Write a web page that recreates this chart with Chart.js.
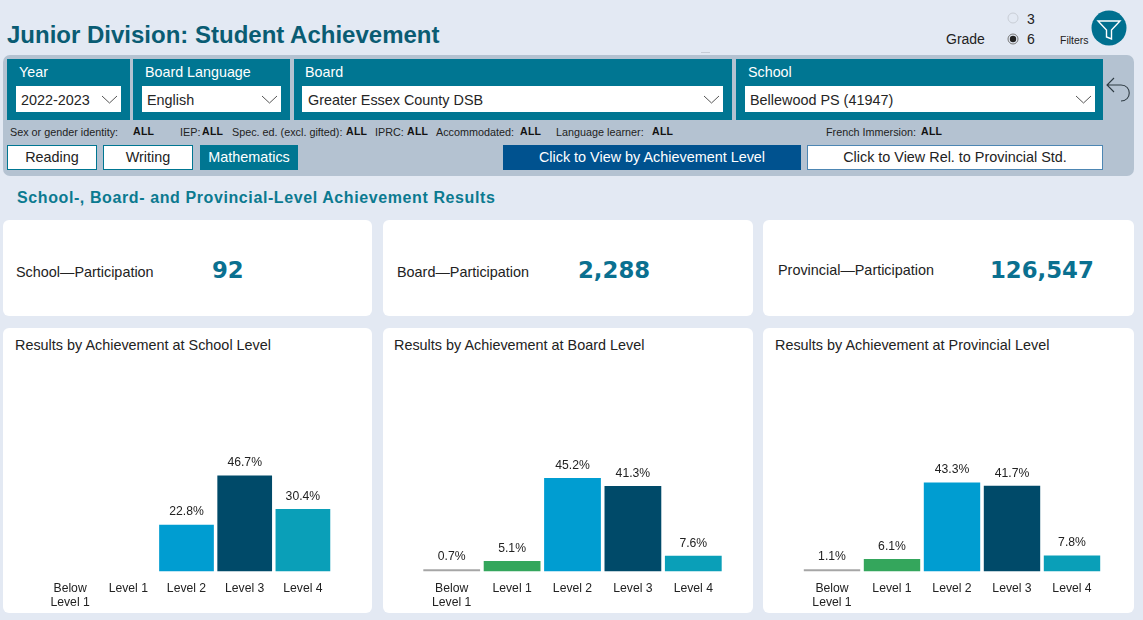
<!DOCTYPE html>
<html><head><meta charset="utf-8">
<script src="https://cdn.jsdelivr.net/npm/chart.js@4/dist/chart.umd.min.js"></script>
<style>
html,body{margin:0;padding:0;width:1143px;height:620px;overflow:hidden;background:#e3e9f3;font-family:"Liberation Sans",Arial,sans-serif;color:#222}
.a{position:absolute;white-space:nowrap;line-height:1}
.panel{position:absolute;left:3px;top:55px;width:1131px;height:121px;background:#b4c2d1;border-radius:7px}
.sl{position:absolute;background:#007692;top:59px;height:61px}
.in{position:absolute;background:#fff;top:86px;height:26px}
.slt{color:#fff;font-size:14.3px;top:65px}
.val{font-size:14.4px;top:93px;color:#252525}
.sm{font-size:10.8px;top:127px;color:#222}
.all{font-size:10.5px;font-weight:bold;top:126px;color:#111;letter-spacing:.3px}
.btn{position:absolute;box-sizing:border-box;text-align:center;font-size:14.4px;line-height:23px;top:145px;height:25px;background:#fff;border:1px solid #007692;color:#222}
.card{position:absolute;background:#fff;border-radius:6px}
.ptext{font-size:14.4px;color:#222}
.pval{font-family:"DejaVu Sans";font-weight:bold;font-size:22.8px;color:#0a7090}
.ct{font-size:14.4px;top:338px;color:#222}
canvas{position:absolute;top:328px;height:285px}
svg{position:absolute}
</style></head><body>
<div class="a" style="left:7px;top:23px;font-size:24px;font-weight:bold;color:#0a5c73">Junior Division: Student Achievement</div>
<div class="a" style="left:946px;top:32px;font-size:14px">Grade</div>
<svg style="left:1006px;top:11px" width="14" height="34"><circle cx="7" cy="7" r="5" fill="none" stroke="#c9ced6"/><circle cx="7" cy="28" r="5" fill="none" stroke="#777"/><circle cx="7" cy="28" r="3.2" fill="#222"/></svg>
<div class="a" style="left:1027px;top:12px;font-size:14px">3</div>
<div class="a" style="left:1027px;top:32px;font-size:14px">6</div>
<div class="a" style="left:1060px;top:35px;font-size:10.5px">Filters</div>
<svg style="left:1091px;top:10px" width="36" height="36"><circle cx="18" cy="18" r="17.5" fill="#00708f"/><path d="M7 11H29L20.5 20V29L15.5 27V20Z" fill="none" stroke="#fff" stroke-width="1.4"/></svg>
<div style="position:absolute;left:701px;top:52px;width:9px;height:1px;background:#c6ccd6"></div>
<div class="panel"></div>
<div class="sl" style="left:6.5px;width:123px"></div><div class="in" style="left:16px;width:105px"></div>
<div class="sl" style="left:133px;width:157px"></div><div class="in" style="left:142px;width:139px"></div>
<div class="sl" style="left:293.5px;width:438px"></div><div class="in" style="left:302px;width:421px"></div>
<div class="sl" style="left:736px;width:367px"></div><div class="in" style="left:745px;width:350px"></div>
<div class="a slt" style="left:19px">Year</div><div class="a slt" style="left:145px">Board Language</div><div class="a slt" style="left:305px">Board</div><div class="a slt" style="left:748px">School</div>
<div class="a val" style="left:21px">2022-2023</div><div class="a val" style="left:147px">English</div><div class="a val" style="left:308px">Greater Essex County DSB</div><div class="a val" style="left:750px">Bellewood PS (41947)</div>
<svg style="left:0;top:90px" width="1143" height="20" fill="none" stroke="#555" stroke-width="1"><path d="M102 6l7.500 7 7.500-7M262 6l7.500 7 7.500-7M704 6l7.500 7 7.500-7M1076 6l7.500 7 7.500-7"/></svg>
<svg style="left:1104px;top:75px" width="28" height="30" fill="none" stroke="#2d3a42" stroke-width="1.1"><path d="M10 3L3 10L10 17M3 10H17C28 10 28 26 17 26"/></svg>
<div class="a sm" style="left:10px">Sex or gender identity:</div><div class="a all" style="left:133px">ALL</div>
<div class="a sm" style="left:180px">IEP:</div><div class="a all" style="left:202px">ALL</div>
<div class="a sm" style="left:232px">Spec. ed. (excl. gifted):</div><div class="a all" style="left:346px">ALL</div>
<div class="a sm" style="left:375px">IPRC:</div><div class="a all" style="left:407px">ALL</div>
<div class="a sm" style="left:436px">Accommodated:</div><div class="a all" style="left:520px">ALL</div>
<div class="a sm" style="left:556px">Language learner:</div><div class="a all" style="left:652px">ALL</div>
<div class="a sm" style="left:826px">French Immersion:</div><div class="a all" style="left:921px">ALL</div>
<div class="btn" style="left:7px;width:90px">Reading</div>
<div class="btn" style="left:103px;width:90px">Writing</div>
<div class="btn" style="left:200px;width:98px;background:#007692;color:#fff">Mathematics</div>
<div class="btn" style="left:503px;width:298px;background:#00528f;border-color:#00528f;color:#fff">Click to View by Achievement Level</div>
<div class="btn" style="left:807px;width:296px;border-color:#4d86b3">Click to View Rel. to Provincial Std.</div>
<div class="a" style="left:17px;top:190px;font-size:16px;font-weight:bold;color:#0b7a90;letter-spacing:.6px">School-, Board- and Provincial-Level Achievement Results</div>
<div class="card" style="left:3px;top:220px;width:369px;height:96px"></div>
<div class="card" style="left:383px;top:220px;width:370px;height:96px"></div>
<div class="card" style="left:763px;top:220px;width:371px;height:96px"></div>
<div class="a ptext" style="left:16px;top:265px">School—Participation</div><div class="a pval" style="left:212px;top:259px">92</div>
<div class="a ptext" style="left:397px;top:265px">Board—Participation</div><div class="a pval" style="left:578px;top:259px">2,288</div>
<div class="a ptext" style="left:778px;top:263px">Provincial—Participation</div><div class="a pval" style="left:990px;top:259px">126,547</div>
<div class="card" style="left:3px;top:328px;width:369px;height:285px"></div>
<div class="card" style="left:383px;top:328px;width:370px;height:285px"></div>
<div class="card" style="left:763px;top:328px;width:371px;height:285px"></div>
<div class="a ct" style="left:15px">Results by Achievement at School Level</div>
<div class="a ct" style="left:394px">Results by Achievement at Board Level</div>
<div class="a ct" style="left:775px">Results by Achievement at Provincial Level</div>
<canvas id="c1" width="369" height="285" style="left:3px;width:369px"></canvas>
<canvas id="c2" width="370" height="285" style="left:383px;width:370px"></canvas>
<canvas id="c3" width="371" height="285" style="left:763px;width:371px"></canvas>
<script>
const categories = [["Below","Level 1"],"Level 1","Level 2","Level 3","Level 4"];
const schoolValues = [null,null,22.8,46.7,30.4];
const boardValues = [0.7,5.1,45.2,41.3,7.6];
const provincialValues = [1.1,6.1,43.3,41.7,7.8];
const levelColors = ["#a6a6a6","#34a65c","#009dd1","#004a69","#0a9fb8"];

const valueLabels = {
  id:"valueLabels",
  afterDatasetsDraw(chart){
    const ctx = chart.ctx, ds = chart.data.datasets[0];
    ctx.save();
    ctx.font = '12.2px "Liberation Sans"';
    ctx.fillStyle = "#222";
    ctx.textAlign = "center";
    ctx.textBaseline = "bottom";
    chart.getDatasetMeta(0).data.forEach((bar,i)=>{
      if(ds.data[i]==null) return;
      ctx.fillText(ds.data[i].toFixed(1)+"%", bar.x, bar.y-6.5);
    });
    ctx.restore();
  }
};
function draw(id,values,pad){
  new Chart(document.getElementById(id),{
    type:"bar",
    data:{labels:categories,datasets:[{data:values,backgroundColor:levelColors,barPercentage:0.94,categoryPercentage:1,minBarLength:2.2}]},
    options:{
      responsive:false,animation:false,
      layout:{padding:pad},
      plugins:{legend:{display:false},tooltip:{enabled:false}},
      scales:{
        y:{display:false,min:0,max:100},
        x:{grid:{display:false},border:{display:false},
           afterFit(s){s.height=41.5},
           ticks:{autoSkip:false,maxRotation:0,padding:3,color:"#222",font:{family:'"Liberation Sans"',size:12.2,lineHeight:1.08}}}
      }
    },
    plugins:[valueLabels]
  });
}
draw("c1",schoolValues,{left:38,right:40,top:38,bottom:0});
draw("c2",boardValues,{left:38.5,right:29.5,top:36.5,bottom:0});
draw("c3",provincialValues,{left:39,right:32,top:38,bottom:0});
</script>
</body></html>
